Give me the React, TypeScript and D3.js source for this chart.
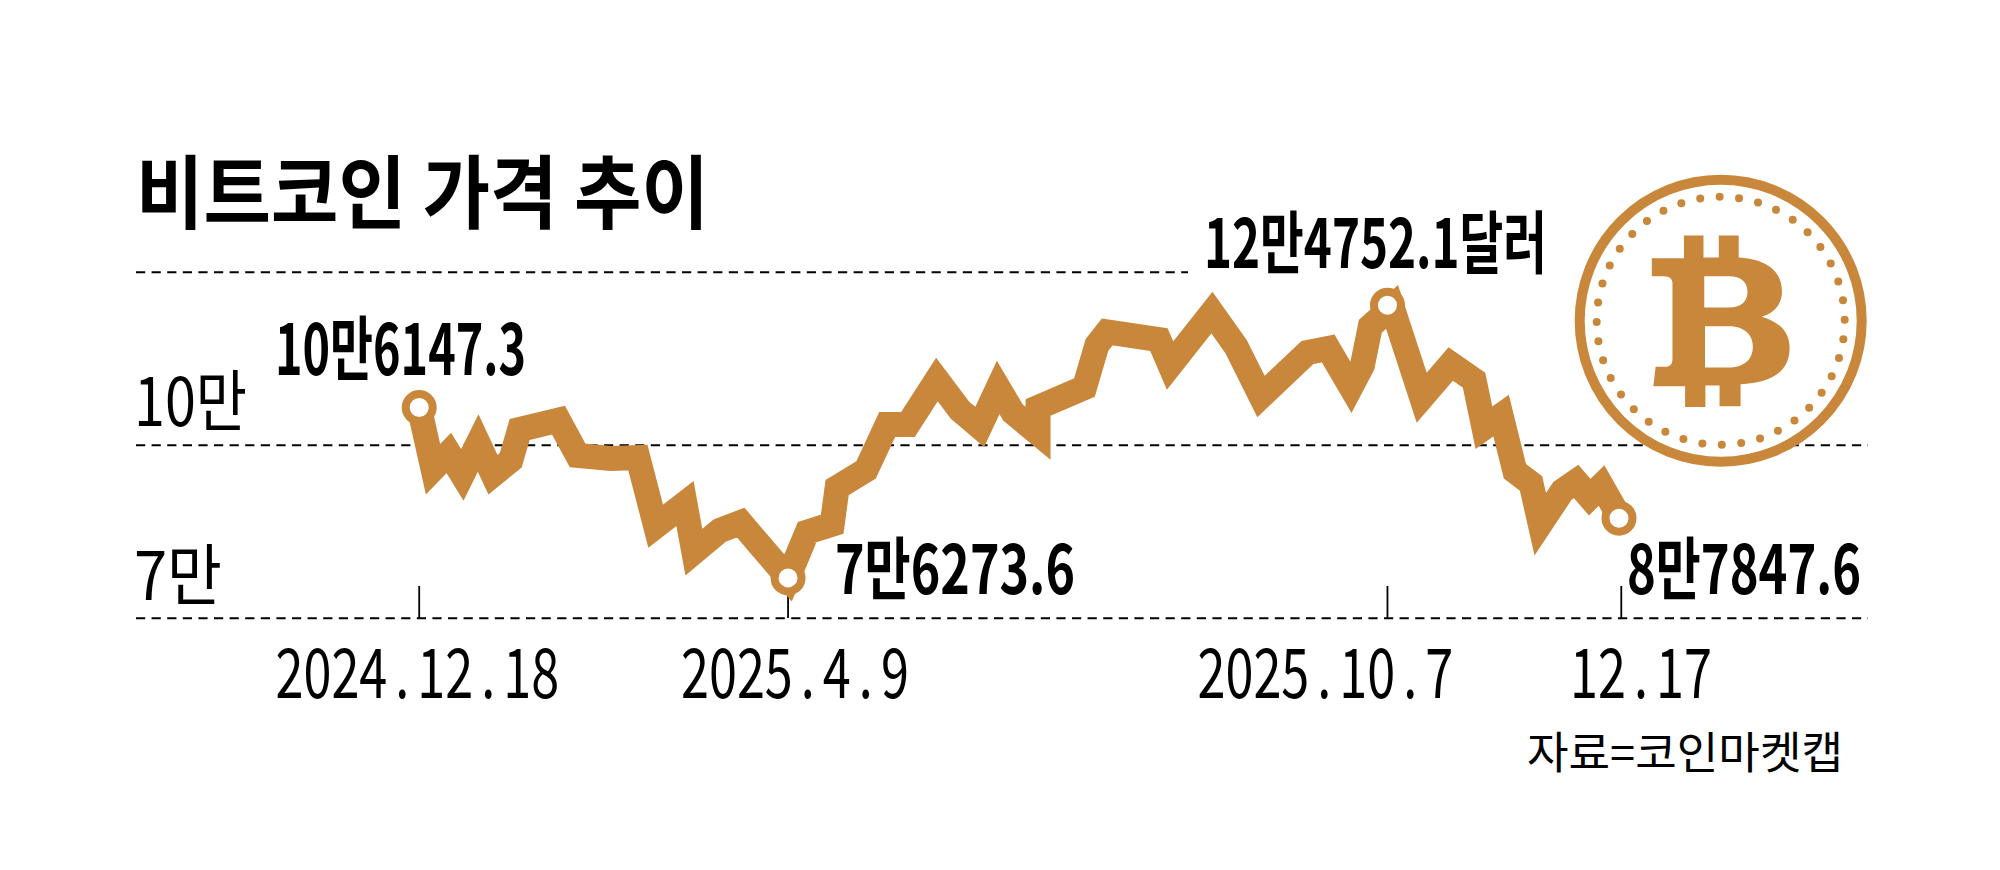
import React from "react";
import * as d3 from "d3";

// Days since 2024-12-18 and the Bitcoin price in dollars
const dayOffsets = [0, 4.2, 9, 13.1, 17.9, 22.4, 27.8, 30.5, 42.3, 48.1, 58.2, 66.4, 71.8, 80.7, 83.4, 91.3, 97.6, 102.6, 112, 117.8, 125.4, 126.9, 135.7, 142.1, 148.4, 157.2, 164.2, 170.2, 175.8, 180.3, 187.9, 187.9, 202, 205.8, 208.9, 224.6, 228, 240.7, 248, 255.6, 269.7, 276, 282.9, 286.4, 288.8, 295.4, 304.4, 313.2, 320.3, 323.3, 328.5, 332.7, 337.6, 340.4, 347.1, 351.3, 355.4, 359, 365];
const prices = [106535, 95837, 98663, 94848, 100380, 94883, 97397, 102721, 104333, 98212, 97692, 97865, 85953, 89889, 81444, 85207, 86594, 83230, 76988, 84912, 86300, 92663, 95715, 103588, 103588, 111391, 106067, 103171, 110003, 105668, 102079, 106535, 110003, 117390, 119644, 118327, 113818, 123008, 117113, 108443, 116072, 116766, 110055, 113870, 120633, 123979, 108235, 114078, 111269, 103033, 105131, 95490, 93357, 86300, 92056, 93704, 90981, 93000, 87000];

const markerDays = [0, 112, 294, 364.3];
const markerPrices = [106535, 76988, 124274, 87340];

const gridValues = [130000, 100000, 70000];
const tickDays = [0, 112, 294, 365];

const title = "비트코인 가격 추이";
const source = "자료=코인마켓캡";
const yLabels = ["10만", "7만"];
const dateLabels = ["2024.12.18", "2025.4.9", "2025.10.7", "12.17"];
const valueLabels = ["10만6147.3", "7만6273.6", "12만4752.1달러", "8만7847.6"];

const GOLD = "#C8873A";
const FONT = "'Noto Sans CJK KR', 'Noto Sans', sans-serif";

const x = d3.scaleLinear().domain([0, 364]).range([419.2, 1618]);
const y = d3.scaleLinear().domain([70000, 100000]).range([618.2, 445.2]);

const line = d3
  .line<number>()
  .x((d) => x(d))
  .y((_, i) => y(prices[i]))
  .curve(d3.curveLinear);

const BITCOIN =
  "M742 205H793V258H833V205H885V258C950 262 998 285 998 340C998 372 975 392 945 400C990 412 1018 435 1018 475C1018 535 965 560 890 562V615H835V565H798V617H745V567H662L668 520H695C708 520 712 512 712 500V320C712 310 705 303 690 303H658V260H742Z" +
  "M795 303V378H860C890 378 908 365 908 340C908 316 890 303 860 303Z" +
  "M797 423V522H860C895 522 922 505 922 472C922 440 895 423 860 423Z";

type L = { t: string; x: number; w: number; y: number; s: number };

const valuePos: L[] = [
  { t: valueLabels[0], x: 275, w: 251, y: 375, s: 70 },
  { t: valueLabels[1], x: 835, w: 240, y: 594, s: 68 },
  { t: valueLabels[2], x: 1204, w: 343, y: 268, s: 68 },
  { t: valueLabels[3], x: 1627, w: 234, y: 594, s: 68 },
];
const yPos: L[] = [
  { t: yLabels[0], x: 134, w: 113, y: 426, s: 67 },
  { t: yLabels[1], x: 134, w: 88, y: 600, s: 67 },
];
const dateX = [275.5, 681, 1197.5, 1570];

function Txt({ l, weight }: { l: L; weight: number }) {
  return (
    <text
      x={l.x}
      y={l.y}
      fontSize={l.s}
      fontWeight={weight}
      fontFamily={FONT}
      textLength={l.w}
      lengthAdjust="spacingAndGlyphs"
      fill="#000"
    >
      {l.t}
    </text>
  );
}

// Date labels: narrow digits, with wide gaps around the periods
function DateLabel({ t, px }: { t: string; px: number }) {
  const parts = t.split(/(\.)/);
  return (
    <text
      transform={`translate(${px} 698) scale(0.73 1)`}
      fontSize={69}
      fontWeight={400}
      fontFamily={FONT}
      fill="#000"
    >
      {parts.map((p, i) => (
        <tspan key={i} dx={i === 0 ? 0 : 11}>
          {p}
        </tspan>
      ))}
    </text>
  );
}

export default function App() {
  const coin = { cx: 1720.7, cy: 320.8, r: 141, dots: 124 };
  return (
    <svg
      width={2000}
      height={870}
      viewBox="0 0 2000 870"
      style={{ position: "absolute", left: 0, top: 0, background: "#fff" }}
    >
      {gridValues.map((v, i) => (
        <line
          key={v}
          x1={136}
          x2={i === 0 ? 1188 : 1868}
          y1={y(v)}
          y2={y(v)}
          stroke="#000"
          strokeWidth={2}
          strokeDasharray="9.2 6.4"
        />
      ))}
      {tickDays.map((d) => (
        <line key={d} x1={x(d)} x2={x(d)} y1={586} y2={618} stroke="#000" strokeWidth={1.8} />
      ))}

      <circle cx={coin.cx} cy={coin.cy} r={coin.r} fill="#fff" stroke={GOLD} strokeWidth={10} />
      {d3.range(40).map((i) => {
        const a = ((i * 9 - 0.5) * Math.PI) / 180;
        return (
          <circle
            key={i}
            cx={coin.cx + coin.dots * Math.sin(a)}
            cy={coin.cy - coin.dots * Math.cos(a)}
            r={4}
            fill={GOLD}
          />
        );
      })}
      <path
        d={BITCOIN}
        fill={GOLD}
        fillRule="evenodd"
        transform={`translate(1400 150) scale(${1 / 2.613} ${1 / 2.4})`}
      />

      <path
        d={line(dayOffsets) ?? ""}
        fill="none"
        stroke={GOLD}
        strokeWidth={25}
        strokeLinejoin="miter"
        strokeMiterlimit={20}
      />
      {markerDays.map((d, i) => (
        <circle key={d} cx={x(d)} cy={y(markerPrices[i])} r={13.5} fill="#fff" stroke={GOLD} strokeWidth={8} />
      ))}

      <text
        x={136}
        y={222}
        fontSize={80}
        fontWeight={700}
        fontFamily={FONT}
        textLength={573}
        lengthAdjust="spacingAndGlyphs"
      >
        {title}
      </text>
      {valuePos.map((l) => (
        <Txt key={l.t} l={l} weight={700} />
      ))}
      {yPos.map((l) => (
        <Txt key={l.t} l={l} weight={400} />
      ))}
      {dateLabels.map((t, i) => (
        <DateLabel key={t} t={t} px={dateX[i]} />
      ))}
      <text
        x={1527}
        y={769}
        fontSize={44}
        fontWeight={400}
        fontFamily={FONT}
        textLength={316}
        lengthAdjust="spacingAndGlyphs"
      >
        {source}
      </text>
    </svg>
  );
}
